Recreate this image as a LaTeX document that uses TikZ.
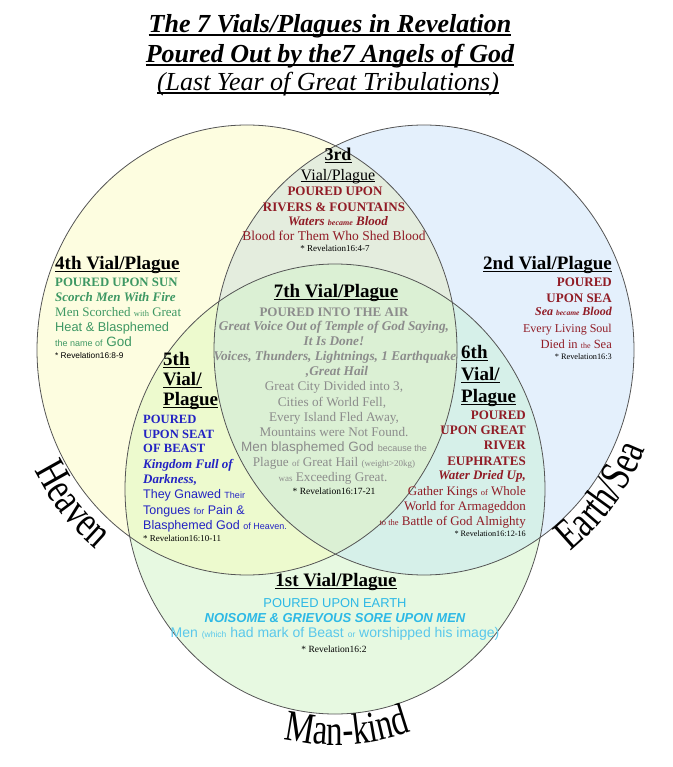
\documentclass[tikz,border=0pt]{standalone}
\usepackage{fontspec}
\setmainfont{Liberation Serif}
\setsansfont{Liberation Sans}
\newfontfamily\curvefont[FakeStretch=0.75]{Liberation Serif}
\usetikzlibrary{calc,decorations.text}
\definecolor{cline}{RGB}{85,85,85}
\definecolor{cY}{RGB}{253,253,224}
\definecolor{cB}{RGB}{228,240,252}
\definecolor{cG}{RGB}{231,249,225}
\definecolor{cYB}{RGB}{228,237,222}
\definecolor{cYG}{RGB}{237,250,206}
\definecolor{cBG}{RGB}{214,240,233}
\definecolor{cYBG}{RGB}{219,240,212}
\definecolor{dred}{RGB}{145,28,38}
\definecolor{gre}{RGB}{62,152,100}
\definecolor{blu}{RGB}{35,35,195}
\definecolor{gry}{RGB}{140,140,140}
\definecolor{cya}{RGB}{45,185,230}
\definecolor{cyl}{RGB}{90,200,235}
\newcommand\fsz[1]{\fontsize{#1}{#1}\selectfont}
\newsavebox\ulbox
\newcommand\myul[1]{\sbox\ulbox{#1}\rlap{\rule[-0.13em]{\wd\ulbox}{0.055em}}\usebox\ulbox}
\begin{document}
\begin{tikzpicture}[x=1pt,y=-1pt,
  every node/.style={inner sep=0pt},
  circ/.style={draw=cline, line width=0.8pt},
  c/.style={anchor=mid},
  l/.style={anchor=mid west},
  r/.style={anchor=mid east},
  hd/.style={font=\fsz{19}\bfseries, text=black},
  ttl/.style={font=\fsz{26}\bfseries\itshape},
  curve/.style={decorate, decoration={text along path, text align=center, text={|\curvefont\fsz{44}|#1}}}
]
\useasboundingbox (0,0) rectangle (672,767);
\fill[white] (0,0) rectangle (672,767);
% region fills
\fill[cY] (247,350) ellipse [x radius=210, y radius=225];
\fill[cB] (424,350) ellipse [x radius=210, y radius=225];
\fill[cG] (335,489) ellipse [x radius=210, y radius=225];
\begin{scope}
  \clip (247,350) ellipse [x radius=210, y radius=225];
  \fill[cYB] (424,350) ellipse [x radius=210, y radius=225];
  \fill[cYG] (335,489) ellipse [x radius=210, y radius=225];
\end{scope}
\begin{scope}
  \clip (424,350) ellipse [x radius=210, y radius=225];
  \fill[cBG] (335,489) ellipse [x radius=210, y radius=225];
\end{scope}
\begin{scope}
  \clip (247,350) ellipse [x radius=210, y radius=225];
  \clip (424,350) ellipse [x radius=210, y radius=225];
  \fill[cYBG] (335,489) ellipse [x radius=210, y radius=225];
\end{scope}
\draw[circ] (247,350) ellipse [x radius=210, y radius=225];
\draw[circ] (424,350) ellipse [x radius=210, y radius=225];
\draw[circ] (335,489) ellipse [x radius=210, y radius=225];

% curved labels
\path[curve=Heaven] ($(247,350)+(172:241 and 256)$) arc[start angle=172, end angle=108, x radius=241, y radius=256];
\path[curve=Earth/Sea] ($(424,350)+(73:240 and 255)$) arc[start angle=73, end angle=3, x radius=240, y radius=255];
\path[curve=Man-kind] ($(335,489)+(122:241 and 256)$) arc[start angle=122, end angle=52, x radius=241, y radius=256];

% title
\node[ttl,c] (ti1) at (330,30) {\myul{The 7 Vials/Plagues in Revelation}};
\node[ttl,c] (ti2) at (330,60) {\myul{Poured Out by the7 Angels of God}};
\node[c,font=\fsz{26}\itshape] (ti3) at (328,88) {\myul{(Last Year of Great Tribulations)}};

% 3rd
\node[c,font=\fsz{18}\bfseries] (v3a) at (338,158) {\myul{3rd}};
\node[c,font=\fsz{16}] (v3b) at (338,178) {\myul{Vial/Plague}};
\node[c,font=\fsz{13}\bfseries,text=dred] (v3c) at (335,193) {POURED UPON};
\node[c,font=\fsz{13}\bfseries,text=dred] (v3d) at (334,209) {RIVERS \& FOUNTAINS};
\node[c,font=\fsz{13}\bfseries\itshape,text=dred] (v3e) at (338,223) {Waters {\fsz{8}became} Blood};
\node[c,font=\fsz{13.5},text=dred] (v3f) at (334,238) {Blood for Them Who Shed Blood};
\node[c,font=\fsz{9}] (v3g) at (335,249) {* Revelation16:4-7};

% 4th
\node[l,hd] (v4a) at (55,267) {\myul{4th Vial/Plague}};
\node[l,font=\fsz{12.8}\bfseries,text=gre] (v4b) at (55,284) {POURED UPON SUN};
\node[l,font=\fsz{13}\bfseries\itshape,text=gre] (v4c) at (55,299) {Scorch Men With Fire};
\node[l,font=\fsz{13},text=gre] (v4d) at (55,314) {Men Scorched {\fsz{8.5}with} Great};
\node[l,font=\sffamily\fsz{12.8},text=gre] (v4e) at (55,329) {Heat \& Blasphemed};
\node[l,font=\sffamily\fsz{13.5},text=gre] (v4f) at (55,344) {{\fsz{9}the name of} God};
\node[l,font=\sffamily\fsz{8.3}] (v4g) at (55,356) {* Revelation16:8-9};

% 2nd
\node[r,hd] (v2a) at (612,267) {\myul{2nd Vial/Plague}};
\node[r,font=\fsz{13}\bfseries,text=dred] (v2b) at (612,284) {POURED};
\node[r,font=\fsz{13}\bfseries,text=dred] (v2c) at (612,300) {UPON SEA};
\node[r,font=\fsz{12}\bfseries\itshape,text=dred] (v2d) at (612,313) {Sea {\fsz{7.5}became} Blood};
\node[r,font=\fsz{12},text=dred] (v2e) at (612,330) {Every Living Soul};
\node[r,font=\fsz{12.5},text=dred] (v2f) at (612,346) {Died in {\fsz{8}the} Sea};
\node[r,font=\fsz{8.3}] (v2g) at (612,357) {* Revelation16:3};

% 7th
\node[c,hd] (v7a) at (336,295) {\myul{7th Vial/Plague}};
\node[c,font=\fsz{13}\bfseries,text=gry] (v7b) at (334,314) {POURED INTO THE AIR};
\node[c,font=\fsz{13.3}\bfseries\itshape,text=gry] (v7c) at (334,328) {Great Voice Out of Temple of God Saying,};
\node[c,font=\fsz{13.3}\bfseries\itshape,text=gry] (v7d) at (334,343) {It Is Done!};
\node[c,font=\fsz{13.3}\bfseries\itshape,text=gry] (v7e) at (335,358) {Voices, Thunders, Lightnings, 1 Earthquake};
\node[c,font=\fsz{13.3}\bfseries\itshape,text=gry] (v7f) at (337,373) {,Great Hail};
\node[c,font=\fsz{13.2},text=gry] (v7g) at (334,388) {Great City Divided into 3,};
\node[c,font=\fsz{13.2},text=gry] (v7h) at (332,404) {Cities of World Fell,};
\node[c,font=\fsz{13.2},text=gry] (v7i) at (334,419) {Every Island Fled Away,};
\node[c,font=\fsz{13.2},text=gry] (v7j) at (334,434) {Mountains were Not Found.};
\node[c,font=\sffamily\fsz{13.5},text=gry] (v7k) at (334,449) {Men blasphemed God {\fsz{9}because the}};
\node[c,font=\fsz{13.2},text=gry] (v7l) at (334,464) {Plague {\fsz{9}of} Great Hail {\fsz{9}(weight>20kg)}};
\node[c,font=\fsz{13.2},text=gry] (v7m) at (333,479) {{\fsz{9}was} Exceeding Great.};
\node[c,font=\fsz{9.5}] (v7n) at (334,492) {* Revelation16:17-21};

% 5th
\node[l,hd] (v5a) at (163,363) {\myul{5th}};
\node[l,hd] (v5b) at (163,383) {\myul{Vial/}};
\node[l,hd] (v5c) at (163,403) {\myul{Plague}};
\node[l,font=\fsz{12.6}\bfseries,text=blu] (v5d) at (143,421) {POURED};
\node[l,font=\fsz{12.6}\bfseries,text=blu] (v5e) at (143,436) {UPON SEAT};
\node[l,font=\fsz{12.6}\bfseries,text=blu] (v5f) at (143,450) {OF BEAST};
\node[l,font=\fsz{13}\bfseries\itshape,text=blu] (v5g) at (143,466) {Kingdom Full of};
\node[l,font=\fsz{13}\bfseries\itshape,text=blu] (v5h) at (143,481) {Darkness,};
\node[l,font=\sffamily\fsz{12.5},text=blu] (v5i) at (143,496) {They Gnawed {\fsz{9}Their}};
\node[l,font=\sffamily\fsz{12.5},text=blu] (v5j) at (143,512) {Tongues {\fsz{9}for} Pain \&};
\node[l,font=\sffamily\fsz{12.5},text=blu] (v5k) at (143,527) {Blasphemed God {\fsz{9}of Heaven.}};
\node[l,font=\fsz{9}] (v5l) at (143,539) {* Revelation16:10-11};

% 6th
\node[l,hd] (v6a) at (461,356) {\myul{6th}};
\node[l,hd] (v6b) at (461,378) {\myul{Vial/}};
\node[l,hd] (v6c) at (461,400) {\myul{Plague}};
\node[r,font=\fsz{13}\bfseries,text=dred] (v6d) at (526,417) {POURED};
\node[r,font=\fsz{13}\bfseries,text=dred] (v6e) at (526,432) {UPON GREAT};
\node[r,font=\fsz{13}\bfseries,text=dred] (v6f) at (526,447) {RIVER};
\node[r,font=\fsz{13}\bfseries,text=dred] (v6g) at (526,463) {EUPHRATES};
\node[r,font=\fsz{13}\bfseries\itshape,text=dred] (v6h) at (526,477) {Water Dried Up,};
\node[r,font=\fsz{13},text=dred] (v6i) at (526,493) {Gather Kings {\fsz{8.5}of} Whole};
\node[r,font=\fsz{13},text=dred] (v6j) at (526,508) {World for Armageddon};
\node[r,font=\fsz{13},text=dred] (v6k) at (526,523) {{\fsz{8.5}to the} Battle of God Almighty};
\node[r,font=\fsz{8.2}] (v6l) at (526,534) {* Revelation16:12-16};

% 1st
\node[c,hd] (v1a) at (336,584) {\myul{1st Vial/Plague}};
\node[c,font=\sffamily\fsz{12.9},text=cya] (v1b) at (335,605) {POURED UPON EARTH};
\node[c,font=\sffamily\fsz{13}\bfseries\itshape,text=cya] (v1c) at (335,620) {NOISOME \& GRIEVOUS SORE UPON MEN};
\node[c,font=\sffamily\fsz{14},text=cyl] (v1d) at (335,635) {Men {\fsz{8.5}(which} had mark of Beast {\fsz{8.5}or} worshipped his image)};
\node[c,font=\fsz{9.5}] (v1e) at (334,650) {* Revelation16:2};
\end{tikzpicture}
\end{document}
